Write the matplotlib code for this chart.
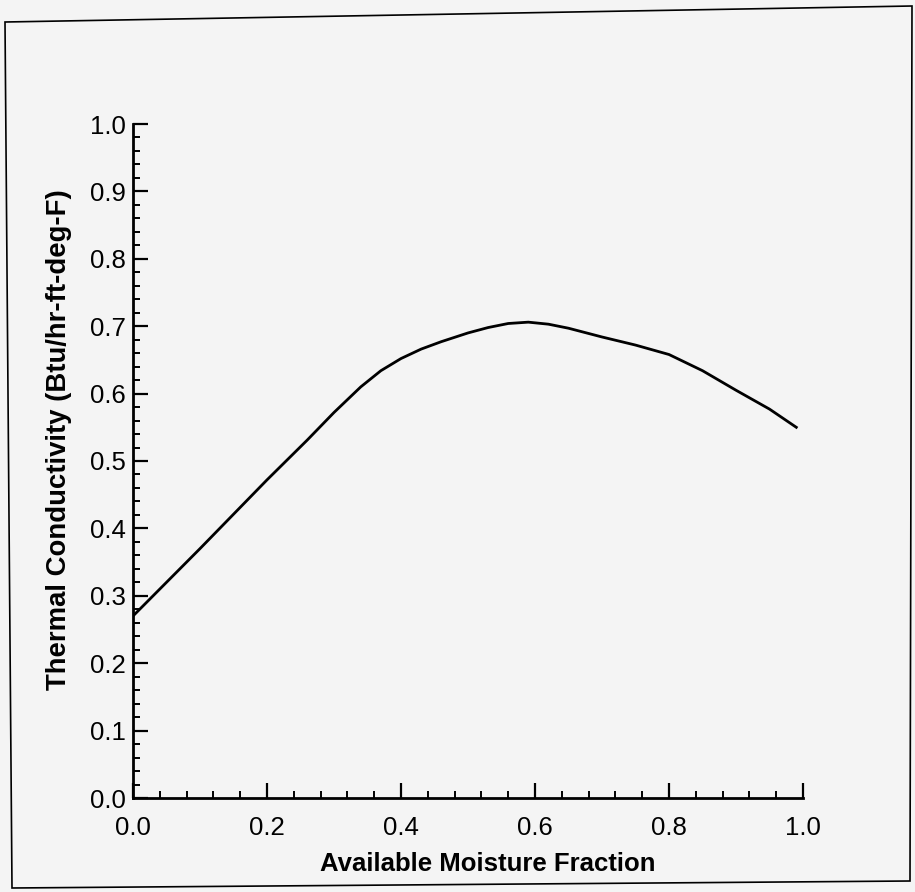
import numpy as np
import matplotlib
matplotlib.use("Agg")
import matplotlib.pyplot as plt
from matplotlib.patches import Polygon
import matplotlib.ticker as ticker

# Curve
moisture = [0.00, 0.10, 0.20, 0.26, 0.30, 0.34, 0.37, 0.40, 0.43, 0.46, 0.50, 0.53,
            0.56, 0.59, 0.62, 0.65, 0.70, 0.75, 0.80, 0.85, 0.90, 0.95, 0.99]
conductivity = [0.270, 0.370, 0.472, 0.531, 0.572, 0.610, 0.634, 0.652, 0.666, 0.677,
                0.690, 0.698, 0.704, 0.706, 0.703, 0.697, 0.684, 0.672, 0.658, 0.634,
                0.605, 0.577, 0.550]

xlab = "Available Moisture Fraction"
ylab = "Thermal Conductivity (Btu/hr-ft-deg-F)"

plt.rcParams['font.family'] = ['Liberation Sans', 'DejaVu Sans']

bg = "#f4f4f4"
fig = plt.figure(figsize=(9.15, 8.92), dpi=100, facecolor=bg)

# scanned page border (slightly skewed)
W, H = 915.0, 892.0
corners = [(5, 22), (912, 6), (910, 881), (12, 888)]
border = Polygon([(x / W, 1 - y / H) for x, y in corners], closed=True,
                 fill=False, edgecolor="black", linewidth=1.2,
                 transform=fig.transFigure)
fig.patches.append(border)

ax = fig.add_axes([133 / W, 1 - 798 / H, (803 - 133) / W, (798 - 124) / H])
ax.set_facecolor(bg)

ax.plot(moisture, conductivity, color="black", linewidth=2.0)

ax.set_xlim(0, 1.0)
ax.set_ylim(0, 1.0)
for s in ["top", "right"]:
    ax.spines[s].set_visible(False)
for s in ["left", "bottom"]:
    ax.spines[s].set_linewidth(2.0)

ax.xaxis.set_major_locator(ticker.MultipleLocator(0.2))
ax.xaxis.set_minor_locator(ticker.MultipleLocator(0.04))
ax.yaxis.set_major_locator(ticker.MultipleLocator(0.1))
ax.yaxis.set_minor_locator(ticker.MultipleLocator(0.02))
ax.xaxis.set_major_formatter(ticker.FormatStrFormatter('%.1f'))
ax.yaxis.set_major_formatter(ticker.FormatStrFormatter('%.1f'))

ax.tick_params(which="major", direction="in", length=11, width=1.6, labelsize=18.5)
ax.tick_params(which="minor", direction="in", length=5, width=1.4)
ax.tick_params(axis="x", which="major", pad=13)
ax.tick_params(axis="y", which="major", pad=5)

ax.set_xlabel(xlab, fontsize=18.5, fontweight="bold")
ax.set_ylabel(ylab, fontsize=19.8, fontweight="bold")
ax.xaxis.set_label_coords(0.53, -0.08)
ax.yaxis.set_label_coords(-0.091, 0.531)

fig.savefig("out.png", dpi=100, facecolor=bg)
